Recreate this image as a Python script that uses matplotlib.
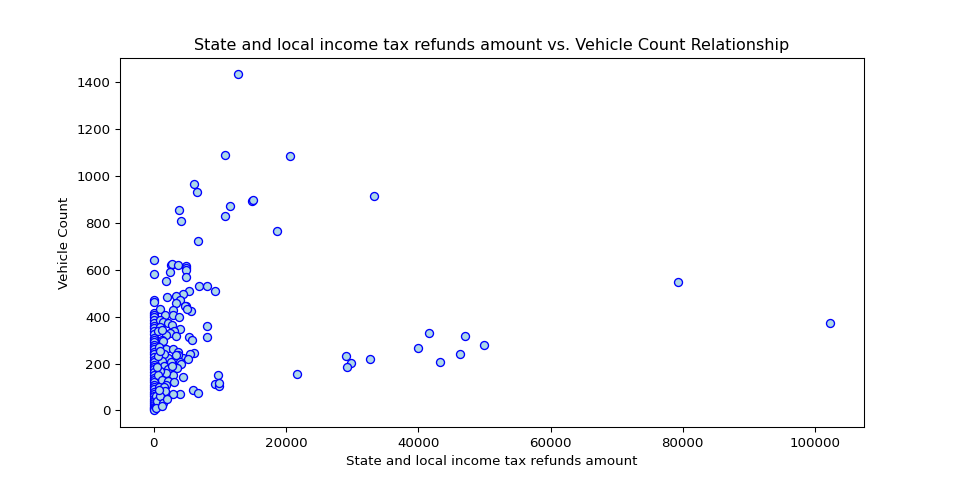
import matplotlib
matplotlib.use("Agg")
import matplotlib.pyplot as plt

# 离群点和分散点
refunds_far = [12700, 10740, 20630, 6070, 6520, 3810, 4110, 11490, 10740, 14800, 15000,
               33330, 18570, 6670, 79300, 102300,
               21730, 29020, 29820, 29270, 32730, 39960, 41620, 43220, 47030, 46380, 49900]
vehicles_far = [1433, 1088, 1084, 965, 931, 854, 807, 871, 829, 894, 897,
                915, 765, 722, 549, 374,
                156, 233, 204, 186, 220, 267, 328, 207, 319, 241, 281]

# x = 0 的一列
vehicles_zero = [643, 583, 469, 462, 415, 405, 398, 385, 372, 360, 350, 340, 325, 310,
                 300, 290, 280, 270, 260, 250, 240, 228, 215, 205, 195, 185, 175, 165,
                 150, 140, 130, 120, 110, 100, 90, 80, 70, 60, 50, 40, 30, 22, 15, 10, 5, 0]

# 密集区域
refunds_near = [2560, 2760, 3660, 4820, 4920, 4920, 2410, 4820, 1860, 6830, 8030, 9290, 5320, 4420,
                2060, 3310, 3920, 3420, 4920, 4770, 5620, 5070, 2910, 1000, 1760, 2910, 3810,
                8030, 3910, 1000, 1400, 2200, 2700, 3100, 2400, 1800, 1300, 1400, 3310, 5320,
                8030, 5820, 900, 600, 1200,
                1910, 2900, 3600, 6020, 5400, 4400, 3660, 5170, 3000, 2100, 1500, 800, 2600,
                4000, 1200, 600, 1000, 3300, 4100,
                4420, 2910, 9690, 9190, 9790, 9790, 1500, 2200, 1800, 1000, 600, 1300, 2100,
                3000, 1900, 800, 1600, 3500, 2700, 500,
                5920, 6730, 3910, 2910, 1660, 1160, 650, 300, 500, 1000, 1400, 800, 400, 1200, 2000]
vehicles_near = [618, 626, 618, 617, 607, 597, 590, 569, 552, 529, 529, 511, 511, 496,
                 482, 486, 469, 458, 447, 444, 425, 433, 430, 433, 408, 408, 399,
                 362, 349, 385, 378, 372, 365, 340, 330, 320, 302, 295, 316, 313,
                 313, 299, 355, 340, 345,
                 260, 262, 250, 243, 240, 225, 238, 220, 215, 225, 240, 270, 205,
                 205, 210, 230, 255, 235, 200,
                 143, 153, 153, 111, 106, 118, 190, 175, 160, 170, 150, 130, 125,
                 120, 110, 100, 100, 180, 190, 185,
                 89, 75, 68, 72, 82, 47, 21, 60, 40, 60, 30, 85, 10, 20, 50]

refunds = refunds_far + [0] * len(vehicles_zero) + refunds_near
vehicles = vehicles_far + vehicles_zero + vehicles_near

plt.figure(figsize=(10, 5), dpi=96)
plt.scatter(refunds, vehicles, facecolor='lightblue', edgecolor='blue')
plt.title('State and local income tax refunds amount vs. Vehicle Count Relationship')
plt.xlabel('State and local income tax refunds amount')
plt.ylabel('Vehicle Count')
plt.savefig('out.png')
